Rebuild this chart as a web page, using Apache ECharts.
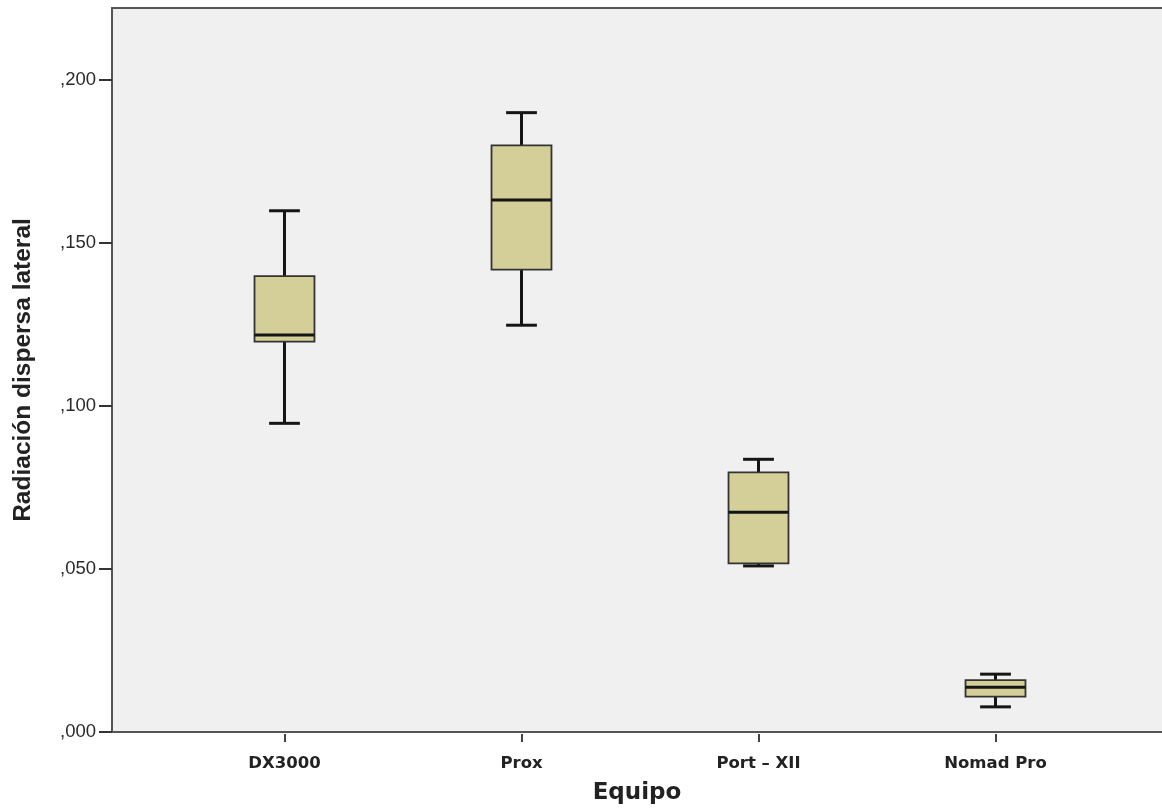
<!DOCTYPE html>
<html>
<head>
<meta charset="utf-8">
<script src="https://cdn.jsdelivr.net/npm/echarts@6/dist/echarts.min.js"></script>
<style>
html,body{margin:0;padding:0;background:#fff;}
#chart{width:1162px;height:810px;}
</style>
</head>
<body>
<div id="chart"></div>
<script>
var categories = ['DX3000', 'Prox', 'Port \u2013 XII', 'Nomad Pro'];
var whiskerLow = [0.095, 0.125, 0.0514, 0.0083];
var q1 = [0.120, 0.142, 0.0522, 0.0114];
var median = [0.122, 0.1633, 0.0678, 0.0143];
var q3 = [0.140, 0.180, 0.080, 0.0165];
var whiskerHigh = [0.160, 0.190, 0.084, 0.0183];

var yMin = 0, yMax = 0.222, yInterval = 0.05;

var boxData = categories.map(function (c, i) {
  return [i, whiskerLow[i], q1[i], median[i], q3[i], whiskerHigh[i]];
});

function fmt(v) {
  var r = Math.round(v / yInterval) * yInterval;
  if (Math.abs(r - v) > 1e-9) return '';
  return v.toFixed(3).replace(/^0\./, ',');
}

var chart = echarts.init(document.getElementById('chart'));
var FONT = '"Liberation Sans", Arial, sans-serif';
var WIDE = '"DejaVu Sans", Verdana, sans-serif';
var axisColor = '#555';

chart.setOption({
  animation: false,
  grid: [
    {left: 112, right: -4, top: 8, bottom: 76, show: true, backgroundColor: '#f0f0f0', borderWidth: 0},
    {left: 166, right: 48, top: 8, bottom: 76}
  ],
  xAxis: [
    {gridIndex: 0, type: 'value', min: 0, max: 1, position: 'bottom',
     axisLine: {show: true, onZero: false, lineStyle: {color: axisColor, width: 2}},
     axisTick: {show: false}, axisLabel: {show: false}, splitLine: {show: false},
     name: 'Equipo', nameLocation: 'middle', nameGap: 50,
     nameTextStyle: {fontFamily: WIDE, fontSize: 23, fontWeight: 'bold', color: '#222'}},
    {gridIndex: 0, type: 'value', min: 0, max: 1, position: 'top',
     axisLine: {show: true, onZero: false, lineStyle: {color: axisColor, width: 2}},
     axisTick: {show: false}, axisLabel: {show: false}, splitLine: {show: false}},
    {gridIndex: 1, type: 'category', data: categories, position: 'bottom',
     axisLine: {show: false},
     axisTick: {show: true, alignWithLabel: true, length: 8, lineStyle: {color: '#444', width: 2}},
     axisLabel: {fontFamily: WIDE, fontSize: 16.5, fontWeight: 'bold', color: '#222', margin: 21},
     splitLine: {show: false}}
  ],
  yAxis: [
    {gridIndex: 0, type: 'value', min: yMin, max: yMax, interval: yInterval,
     axisLine: {show: true, lineStyle: {color: axisColor, width: 2}},
     axisTick: {show: true, length: 13, lineStyle: {color: '#333', width: 2}},
     axisLabel: {formatter: fmt, fontFamily: FONT, fontSize: 18.5, color: '#2a2a2a', margin: 16, showMaxLabel: false},
     splitLine: {show: false},
     name: 'Radiación dispersa lateral', nameLocation: 'middle', nameGap: 76, nameRotate: 90,
     nameTextStyle: {fontFamily: FONT, fontSize: 24.5, fontWeight: 'bold', color: '#222'}},
    {gridIndex: 1, type: 'value', min: yMin, max: yMax, interval: yInterval, show: false,
     splitLine: {show: false}}
  ],
  series: [{
    type: 'custom',
    xAxisIndex: 2,
    yAxisIndex: 1,
    data: boxData,
    encode: {x: 0, y: [1, 2, 3, 4, 5]},
    renderItem: function (params, api) {
      var x = api.value(0);
      var pLo = api.coord([x, api.value(1)]);
      var pQ1 = api.coord([x, api.value(2)]);
      var pMed = api.coord([x, api.value(3)]);
      var pQ3 = api.coord([x, api.value(4)]);
      var pHi = api.coord([x, api.value(5)]);
      var band = api.size([1, 0])[0];
      var bw = band * 0.253 / 2;
      var cw = band * 0.13 / 2;
      var cx = pMed[0];
      var lineStyle = {stroke: '#151515', lineWidth: 3};
      return {
        type: 'group',
        children: [
          {type: 'line', shape: {x1: cx, y1: pQ3[1], x2: cx, y2: pHi[1]}, style: lineStyle},
          {type: 'line', shape: {x1: cx, y1: pQ1[1], x2: cx, y2: pLo[1]}, style: lineStyle},
          {type: 'line', shape: {x1: cx - cw, y1: pHi[1], x2: cx + cw, y2: pHi[1]}, style: lineStyle},
          {type: 'line', shape: {x1: cx - cw, y1: pLo[1], x2: cx + cw, y2: pLo[1]}, style: lineStyle},
          {type: 'rect', shape: {x: cx - bw, y: pQ3[1], width: 2 * bw, height: pQ1[1] - pQ3[1]},
           style: {fill: '#d4cf98', stroke: '#333', lineWidth: 1.8}},
          {type: 'line', shape: {x1: cx - bw, y1: pMed[1], x2: cx + bw, y2: pMed[1]}, style: lineStyle}
        ]
      };
    }
  }]
});
</script>
</body>
</html>
